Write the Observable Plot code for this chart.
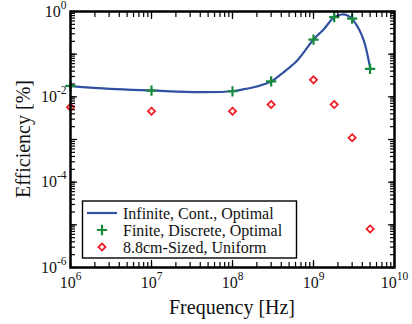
<!DOCTYPE html>
<html><head><meta charset="utf-8">
<script src="https://cdn.jsdelivr.net/npm/d3@7"></script>
<script src="https://cdn.jsdelivr.net/npm/@observablehq/plot@0.6"></script>
<style>body{margin:0;background:#fff}
#chart svg, #chart svg text{font-family:"Liberation Serif","Times New Roman",serif !important}</style>
</head><body><div id="chart"></div>
<script>
// Infinite, continuous, optimal (curve)
const curveFreq = [1e6, 3.1e6, 1e7, 4e7, 1e8, 1.26e8, 2e8, 3e8, 4.3e8, 6.3e8, 1e9, 1.35e9, 1.8e9, 2.24e9, 2.63e9, 3e9, 3.63e9, 4.17e9, 4.57e9, 5e9];
const curveEff  = [0.0178, 0.0154, 0.0141, 0.0129, 0.0135, 0.0146, 0.0175, 0.023, 0.038, 0.071, 0.22, 0.39, 0.74, 0.85, 0.81, 0.67, 0.39, 0.21, 0.11, 0.048];
// Finite, discrete, optimal
const finiteFreq = [1e6, 1e7, 1e8, 3e8, 1e9, 1.8e9, 3e9, 5e9];
const finiteEff  = [0.018, 0.014, 0.0135, 0.023, 0.22, 0.74, 0.68, 0.045];
// 8.8cm-sized, uniform
const sizedFreq = [1e6, 1e7, 1e8, 3e8, 1e9, 1.8e9, 3e9, 5e9];
const sizedEff  = [0.0057, 0.0046, 0.0046, 0.0066, 0.025, 0.0066, 0.0011, 8e-6];

const xDomain = [1e6, 1e10];
const yDomain = [1e-6, 1];
const xMajor = [1e6, 1e7, 1e8, 1e9, 1e10];
const yMajor = [1e-6, 1e-5, 1e-4, 1e-3, 1e-2, 1e-1, 1];
const yLabeled = [1e-6, 1e-4, 1e-2, 1];
const legendLabels = ["Infinite, Cont., Optimal", "Finite, Discrete, Optimal", "8.8cm-Sized, Uniform"];
const colors = {blue: "#3050a2", green: "#178a3c", red: "#ee1c25"};

const xMinor = d3.scaleLog().domain(xDomain).ticks();
const yMinor = d3.scaleLog().domain(yDomain).ticks();

const curve = curveFreq.map((f, i) => ({f, e: curveEff[i]}));
const finite = finiteFreq.map((f, i) => ({f, e: finiteEff[i]}));
const sized = sizedFreq.map((f, i) => ({f, e: sizedEff[i]}));
const fmt = d => "10^" + Math.round(Math.log10(d));
const blank = () => "";

// inward ticks: outward ticks shifted inside by their own length
function inTicksX(ticks, len) {
  return [
    Plot.axisX({anchor: "bottom", ticks, tickSize: len, dy: -len, tickFormat: blank, label: null, stroke: "#000", strokeWidth: 1.2}),
    Plot.axisX({anchor: "top", ticks, tickSize: len, dy: len, tickFormat: blank, label: null, stroke: "#000", strokeWidth: 1.2})
  ];
}
function inTicksY(ticks, len) {
  return [
    Plot.axisY({anchor: "left", ticks, tickSize: len, dx: len, tickFormat: blank, label: null, stroke: "#000", strokeWidth: 1.2}),
    Plot.axisY({anchor: "right", ticks, tickSize: len, dx: -len, tickFormat: blank, label: null, stroke: "#000", strokeWidth: 1.2})
  ];
}

const plot = Plot.plot({
  width: 412, height: 324,
  marginLeft: 70, marginRight: 18, marginTop: 11, marginBottom: 57,
  x: {type: "log", domain: xDomain},
  y: {type: "log", domain: yDomain},
  marks: [
    Plot.axisX({anchor: "bottom", ticks: xMajor, tickSize: 0, tickPadding: 9, tickFormat: fmt, fontSize: 16, label: null, fill: "#111"}),
    Plot.axisY({anchor: "left", ticks: yLabeled, tickSize: 0, tickPadding: 4, tickFormat: fmt, fontSize: 16, label: null, fill: "#111"}),
    Plot.line(curve, {x: "f", y: "e", stroke: colors.blue, strokeWidth: 2.2, curve: "catmull-rom"}),
    Plot.dot(sized, {x: "f", y: "e", symbol: "diamond2", r: 3.2, stroke: colors.red, strokeWidth: 1.8}),
    Plot.dot(finite, {x: "f", y: "e", symbol: "plus", r: 3.4, stroke: colors.green, strokeWidth: 2.2}),
    ...inTicksX(xMinor, 5), ...inTicksX(xMajor, 7),
    ...inTicksY(yMinor, 5), ...inTicksY(yMajor, 7),
    Plot.frame({stroke: "black", strokeWidth: 2.5})
  ]
});
document.getElementById("chart").append(plot);

const ns = "http://www.w3.org/2000/svg";
plot.querySelectorAll('g[aria-label$="tick label"] text').forEach(t => {
  const s = t.textContent;
  if (!s.includes("^")) return;
  const [b, e] = s.split("^");
  t.textContent = "";
  const t1 = document.createElementNS(ns, "tspan"); t1.textContent = b;
  const t2 = document.createElementNS(ns, "tspan"); t2.textContent = e;
  t2.setAttribute("dy", "-8"); t2.setAttribute("font-size", "11.5");
  t.append(t1, t2);
});

const svg = d3.select(plot);
svg.append("text").attr("x", 232).attr("y", 314).attr("text-anchor", "middle")
  .attr("font-size", 20).attr("fill", "#111").text("Frequency [Hz]");
svg.append("text").attr("transform", "translate(30,139) rotate(-90)").attr("text-anchor", "middle")
  .attr("font-size", 20).attr("fill", "#111").text("Efficiency [%]");

const lg = svg.append("g").attr("font-size", 16).attr("fill", "#111").attr("text-anchor", "start");
lg.append("rect").attr("x", 82.5).attr("y", 201).attr("width", 214).attr("height", 57)
  .attr("fill", "white").attr("stroke", "black").attr("stroke-width", 1.4);
const rows = [213, 230, 247];
lg.append("line").attr("x1", 87).attr("x2", 117).attr("y1", rows[0]).attr("y2", rows[0])
  .attr("stroke", colors.blue).attr("stroke-width", 2.2);
lg.append("path").attr("transform", `translate(102,${rows[1]})`)
  .attr("d", d3.symbol(d3.symbolPlus, Math.PI * 3.4 * 3.4)()).attr("fill", "none").attr("stroke", colors.green).attr("stroke-width", 2.2);
lg.append("path").attr("transform", `translate(102,${rows[2]})`)
  .attr("d", d3.symbol(d3.symbolDiamond2, Math.PI * 3.2 * 3.2)()).attr("fill", "none").attr("stroke", colors.red).attr("stroke-width", 1.8);
legendLabels.forEach((s, i) => {
  lg.append("text").attr("x", 123).attr("y", rows[i]).attr("dy", "0.35em").text(s);
});
</script></body></html>
